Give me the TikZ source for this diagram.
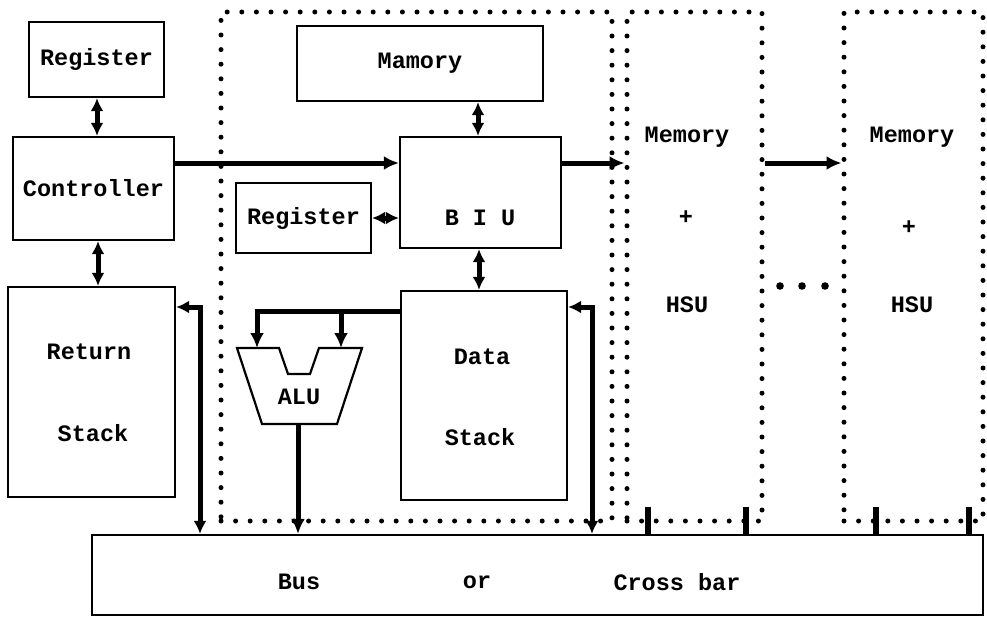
\documentclass[tikz,border=0pt]{standalone}
\usepackage{fontspec}
\setmonofont{Liberation Mono}
\usetikzlibrary{arrows.meta,calc}
\begin{document}
\begin{tikzpicture}[x=1pt,y=-1pt,
  lbl/.style={font=\ttfamily\bfseries\fontsize{23.5}{27}\selectfont, inner sep=0pt},
  box/.style={draw, line width=2.2pt, inner sep=0pt},
  dotbox/.style={draw, line width=5pt, line cap=round, dash pattern=on 0pt off 14.6pt, inner sep=0pt},
  conn/.style={line width=5pt},
  arr/.style={conn, -{Latex[length=15pt,width=14pt]}},
  dbl/.style={conn, {Latex[length=13pt,width=13pt]}-{Latex[length=13pt,width=13pt]}},
  tick/.style={line width=5.5pt}]
\useasboundingbox (0,0) rectangle (987,618);

% dotted regions
\node[dotbox, minimum width=391pt, minimum height=509pt] (core) at (416.5,266.5) {};
\node[dotbox, minimum width=135pt, minimum height=509pt] (mem1) at (694.5,266.5) {};
\node[dotbox, minimum width=139pt, minimum height=509pt] (mem2) at (913.5,266.5) {};

% boxes
\node[box, minimum width=135pt, minimum height=75pt] (reg) at (96.5,59.5) {};
\node[lbl] at (reg.center) {Register};
\node[box, minimum width=161pt, minimum height=103pt] (ctrl) at (93.5,188.5) {};
\node[lbl] at (ctrl.center) {Controller};
\node[box, minimum width=167pt, minimum height=210pt] (ret) at (91.5,392) {};
\node[lbl] (rettxt1) at (89,352) {Return};
\node[lbl] (rettxt2) at (93,433) {Stack};

\node[box, minimum width=246pt, minimum height=75pt] (mam) at (420,63.5) {};
\node[lbl] at (mam.center) {Mamory};
\node[box, minimum width=161pt, minimum height=111pt] (biu) at (480.5,192.5) {};
\node[lbl] at (480,218) {B I U};
\node[box, minimum width=135pt, minimum height=70pt] (reg2) at (303.5,218) {};
\node[lbl] at (reg2.center) {Register};
\node[box, minimum width=166pt, minimum height=209pt] (ds) at (484,395.5) {};
\node[lbl] (dstxt1) at (482,357) {Data};
\node[lbl] (dstxt2) at (480,437) {Stack};

\node[box, minimum width=891pt, minimum height=80pt] (bus) at (537.5,575) {};
\node[lbl] (bustxt1) at (299,582) {Bus};
\node[lbl] (bustxt2) at (477,582) {or};
\node[lbl] (bustxt3) at (677,582) {Cross bar};

% memory column texts
\node[lbl] (m1a) at (687,137) {Memory};
\node[lbl] (m1b) at (686,218) {+};
\node[lbl] (m1c) at (687,305) {HSU};
\node[lbl] (m2a) at (912,137) {Memory};
\node[lbl] (m2b) at (909,228) {+};
\node[lbl] (m2c) at (912,305) {HSU};

% ALU
\coordinate (aluin1) at (257,348);
\coordinate (aluin2) at (341,348);
\coordinate (aluout) at (298,424);
\draw[line width=2.2pt, line join=miter, fill=white]
  (237,348) -- (279,348) -- (288,374) -- (310,374) -- (319,348) -- (362,348)
  -- (337,424) -- (262,424) -- cycle;
\node[lbl] (alutxt) at (299,397) {ALU};

% connectors
\draw[dbl] (reg.south -| 97,0) -- (ctrl.north -| 97,0);
\draw[dbl] (ctrl.south -| 98,0) -- (ret.north -| 98,0);
\draw[arr] (ctrl.east |- 0,163) -- (biu.west |- 0,163);
\draw[arr] (biu.east |- 0,163) -- (mem1.west |- 0,163);
\draw[arr] (mem1.east |- 0,163) -- (mem2.west |- 0,163);
\draw[dbl] (mam.south -| 478,0) -- (biu.north -| 478,0);
\draw[dbl] (reg2.east) -- (biu.west |- reg2.east);
\draw[dbl] (biu.south -| 479,0) -- (ds.north -| 479,0);
\draw[arr] (ds.west |- 0,311) -| (aluin1);
\draw[arr] (aluin2 |- 0,311) -- (aluin2);
\draw[arr] (aluout) -- (aluout |- bus.north);
\draw[dbl] (bus.north -| 200,0) |- (ret.east |- 0,307);
\draw[dbl] (bus.north -| 592,0) |- (ds.east |- 0,307);

% ticks
\foreach \tx in {648,746,876,969} \draw[tick] (\tx,507) -- (bus.north -| \tx,0);

% dots between memory columns
\foreach \dx in {780,802,825} \fill (\dx,286) circle (3.8pt);
\end{tikzpicture}
\end{document}
